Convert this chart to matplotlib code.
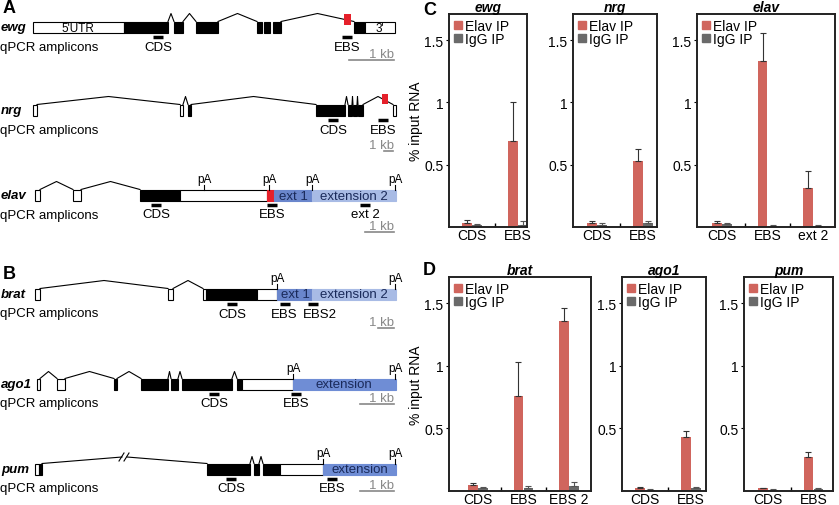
import matplotlib
matplotlib.use("Agg")
import matplotlib.pyplot as plt
from matplotlib.patches import Rectangle, Patch

plt.rcParams["font.family"] = ["Liberation Sans", "DejaVu Sans"]

W, H = 839, 506

# ---- panels C / D: RIP-qPCR values (% input RNA) ----
C_GENES = ["ewg", "nrg", "elav"]
C_CATS = [["CDS", "EBS"], ["CDS", "EBS"], ["CDS", "EBS", "ext 2"]]
C_ELAV = [[0.03, 0.69], [0.03, 0.53], [0.03, 1.33, 0.31]]
C_ELAV_ERR = [[0.03, 0.31], [0.02, 0.10], [0.02, 0.23, 0.14]]
C_IGG = [[0.015, 0.02], [0.02, 0.03], [0.025, 0.01, 0.01]]
C_IGG_ERR = [[0.012, 0.03], [0.01, 0.02], [0.005, 0.006, 0.006]]

D_GENES = ["brat", "ago1", "pum"]
D_CATS = [["CDS", "EBS", "EBS 2"], ["CDS", "EBS"], ["CDS", "EBS"]]
D_ELAV = [[0.05, 0.76, 1.36], [0.02, 0.43], [0.02, 0.27]]
D_ELAV_ERR = [[0.01, 0.27, 0.10], [0.01, 0.05], [0.005, 0.04]]
D_IGG = [[0.025, 0.025, 0.04], [0.01, 0.02], [0.01, 0.015]]
D_IGG_ERR = [[0.005, 0.012, 0.03], [0.005, 0.01], [0.003, 0.008]]

# ---- panels A / B: gene models, in diagram pixel units ----
GENE_NAMES = ["ewg", "nrg", "elav", "brat", "ago1", "pum"]
GENE_Y = [28, 111, 196, 295, 385, 470]          # box centre
EXONS = [
    [(33, 124, "w"), (124, 168, "k"), (174, 183, "k"), (196, 218, "k"), (257, 262, "k"),
     (264, 270, "k"), (273, 281, "k"), (354, 365, "k"), (365, 395, "w")],
    [(33, 37, "w"), (180, 183, "w"), (188, 191, "k"), (316, 345, "k"), (348, 352, "k"),
     (353, 357, "k"), (358, 363, "k"), (393, 396, "w")],
    [(35, 40, "w"), (73, 81, "w"), (140, 180, "k"), (180, 267, "w"), (267, 274, "r"),
     (274, 312, "b1"), (312, 396, "b2")],
    [(35, 40, "w"), (168, 173, "w"), (203, 206, "w"), (206, 257, "k"), (257, 277, "w"),
     (277, 312, "b1"), (312, 396, "b2")],
    [(37, 40, "w"), (57, 65, "w"), (114, 117, "k"), (141, 168, "k"), (171, 178, "k"),
     (182, 232, "k"), (237, 242, "k"), (242, 293, "w"), (293, 396, "b3")],
    [(35, 39, "w"), (39, 42, "k"), (207, 250, "k"), (254, 259, "k"), (263, 280, "k"),
     (280, 323, "w"), (323, 396, "b3")],
]
INTRONS = [
    [(168, 174, 8), (183, 196, 8), (218, 257, 8), (281, 354, 8)],
    [(37, 180, 8), (183, 188, 8), (191, 316, 8), (345, 348, 8), (352, 353, 8),
     (357, 358, 8), (363, 393, 8)],
    [(40, 73, 8), (81, 140, 8)],
    [(40, 168, 8), (173, 203, 8)],
    [(40, 57, 7), (65, 114, 7), (117, 141, 7), (168, 171, 7), (178, 182, 7), (232, 237, 7)],
    [(250, 254, 7), (259, 263, 7)],
]
EXON_TEXT = [
    [(78, "5'UTR"), (380, "3'")], [], [(293, "ext 1"), (354, "extension 2")],
    [(295, "ext 1"), (354, "extension 2")], [(344, "extension")], [(360, "extension")],
]
RED_MARKS = [(344, 351, 15, 26), (382, 388, 95, 105)]
PA_SITES = [[], [], [204, 269, 312, 395], [277, 395], [293, 395], [323, 395]]
# (amplicon bar centre, label, label centre)
AMPLICONS = [
    [(158, "CDS", 158), (347, "EBS", 347)],
    [(333, "CDS", 333), (383, "EBS", 383)],
    [(156, "CDS", 156), (272, "EBS", 272), (365, "ext 2", 365)],
    [(232, "CDS", 232), (285, "EBS", 284), (313, "EBS2", 320)],
    [(214, "CDS", 214), (296, "EBS", 296)],
    [(231, "CDS", 231), (332, "EBS", 332)],
]
SCALE_BARS = [(349, 394, 61), (384, 393, 152), (365, 394, 233), (378, 394, 329),
              (360, 394, 405), (360, 394, 492)]

FILL = {"w": "white", "k": "black", "r": "#e5202a", "b1": "#6a86cc",
        "b2": "#a8bbe5", "b3": "#6f8dd5"}
FS = 9.5

fig = plt.figure(figsize=(W / 100, H / 100), dpi=100)
ax0 = fig.add_axes([0, 0, 1, 1])
ax0.set_xlim(0, W)
ax0.set_ylim(H, 0)
ax0.axis("off")

for k, name in enumerate(GENE_NAMES):
    yc = GENE_Y[k]
    top, bot = yc - 5.5, yc + 5.5
    ax0.text(1, yc, name, fontsize=FS, fontweight="bold", style="italic", va="center")
    for x0, x1, f in EXONS[k]:
        ax0.add_patch(Rectangle((x0, top), x1 - x0, bot - top, facecolor=FILL[f],
                                edgecolor="black" if f in ("w", "k") else FILL[f], lw=0.8, zorder=3))
    for x0, x1, h in INTRONS[k]:
        ax0.plot([x0, (x0 + x1) / 2, x1], [top, top - h, top], color="black", lw=0.8, zorder=2)
    for xc, t in EXON_TEXT[k]:
        col = "#1a2a5a" if k >= 2 else "black"
        ax0.text(xc, yc + 0.5, t, fontsize=FS if k >= 2 else 8.5, ha="center", va="center",
                 color=col, zorder=4)
    for xp in PA_SITES[k]:
        ax0.plot([xp, xp], [top, top - 5], color="black", lw=0.8, zorder=4)
        ax0.text(xp, top - 4.5, "pA", fontsize=8.5, ha="center", va="bottom")
    ay = bot + 4.5
    for xb, t, xt in AMPLICONS[k]:
        ax0.plot([xb - 5, xb + 5], [ay, ay], color="black", lw=2.5, solid_capstyle="butt")
        ax0.text(xt, ay + 9.5, t, fontsize=FS, ha="center", va="center")
    ax0.text(0, ay + 9.5, "qPCR amplicons", fontsize=FS, va="center")
    sx0, sx1, sy = SCALE_BARS[k]
    ax0.plot([sx0, sx1], [sy, sy], color="#888888", lw=1.2)
    ax0.text(394, sy, "1 kb", fontsize=FS, ha="right", va="bottom", color="#888888")

# pum intron with break marks
ax0.plot([42, 122], [464.5, 458], color="black", lw=0.8)
ax0.plot([127, 207], [458, 464.5], color="black", lw=0.8)
ax0.plot([119, 124], [462, 454], color="black", lw=0.8)
ax0.plot([124, 129], [462, 454], color="black", lw=0.8)
for x0, x1, y0, y1 in RED_MARKS:
    ax0.add_patch(Rectangle((x0, y0), x1 - x0, y1 - y0, facecolor=FILL["r"], edgecolor="none", zorder=5))

for lab, x, y in [("A", 3, 0), ("B", 3, 266), ("C", 423, 2), ("D", 423, 262)]:
    ax0.text(x, y, lab, fontsize=13, fontweight="bold", va="top")

# ---- bar charts ----
ELAV_COL, IGG_COL = "#d0655d", "#6a6a6a"
C_BOXES = [(449, 15, 527, 228), (573, 15, 657, 228), (697, 15, 835, 228)]
D_BOXES = [(449, 278, 591, 492), (622, 278, 706, 492), (744, 278, 833, 492)]
C_XLIM = [(-0.5, 1.2), (-0.52, 1.3), (-0.55, 2.48)]
D_XLIM = [(-0.63, 2.48), (-0.5, 1.33), (-0.52, 1.43)]


def bar_panel(box, xl, gene, cats, ev, ee, iv, ie, ylab):
    l, t, r, b = box
    ax = fig.add_axes([l / W, 1 - b / H, (r - l) / W, (b - t) / H])
    xs = list(range(len(cats)))
    bw = 0.21
    ax.bar([x - 0.11 for x in xs], ev, bw, color=ELAV_COL,
           yerr=[[0] * len(ev), ee], error_kw=dict(ecolor="#333333", elinewidth=0.8, capsize=2, capthick=0.8))
    ax.bar([x + 0.11 for x in xs], iv, bw, color=IGG_COL,
           yerr=[[0] * len(iv), ie], error_kw=dict(ecolor="#555555", elinewidth=0.8, capsize=2, capthick=0.8))
    ax.set_xlim(*xl)
    ax.set_ylim(0, 1.71)
    ax.set_yticks([0.5, 1, 1.5])
    ax.set_yticklabels(["0.5", "1", "1.5"], fontsize=10)
    ax.set_xticks(xs)
    ax.set_xticklabels(cats, fontsize=10)
    ax.set_xticks([x + 0.5 for x in xs[:-1]], minor=True)
    ax.tick_params(axis="x", which="major", length=0, pad=1)
    ax.tick_params(axis="x", which="minor", direction="in", length=3, width=1)
    ax.tick_params(axis="y", direction="out", length=2.5, width=0.8, pad=1.5)
    for s in ax.spines.values():
        s.set_linewidth(1.4)
        s.set_color("#222222")
    ax.set_title(gene, fontsize=10, fontweight="bold", style="italic", pad=2)
    if ylab:
        ax.set_ylabel("% input RNA", fontsize=10, labelpad=1)
    ax.legend(handles=[Patch(color=ELAV_COL, label="Elav IP"), Patch(color=IGG_COL, label="IgG IP")],
              loc="upper left", frameon=False, fontsize=10, handlelength=0.55, handleheight=0.55,
              handletextpad=0.25, labelspacing=-0.05, borderaxespad=0.15, borderpad=0.2)


for i in range(3):
    bar_panel(C_BOXES[i], C_XLIM[i], C_GENES[i], C_CATS[i], C_ELAV[i], C_ELAV_ERR[i],
              C_IGG[i], C_IGG_ERR[i], i == 0)
    bar_panel(D_BOXES[i], D_XLIM[i], D_GENES[i], D_CATS[i], D_ELAV[i], D_ELAV_ERR[i],
              D_IGG[i], D_IGG_ERR[i], i == 0)

fig.savefig("out.png", dpi=100)
